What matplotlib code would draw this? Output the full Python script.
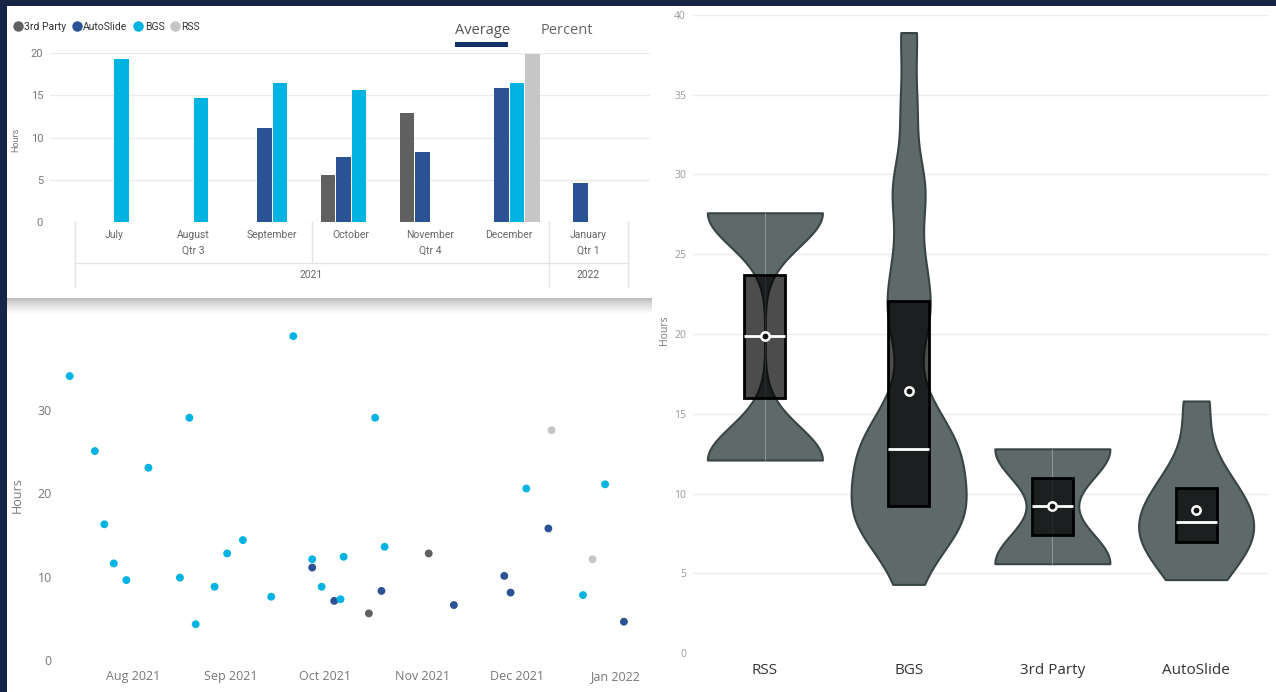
import numpy as np
import pandas as pd
import matplotlib
matplotlib.use("Agg")
import matplotlib.pyplot as plt
import matplotlib.dates as mdates
from matplotlib.patches import Rectangle
from matplotlib.lines import Line2D

plt.rcParams['font.family'] = ['Open Sans', 'DejaVu Sans']

# ---------------------------------------------------------
# Data
# ---------------------------------------------------------
series_names = ["3rd Party", "AutoSlide", "BGS", "RSS"]
series_colors = ["#606060", "#2a5295", "#01b3e3", "#c6c6c6"]

# monthly averages (hours), top-left chart
months = ["July", "August", "September", "October", "November", "December", "January"]
month_quarter = ["Qtr 3", "Qtr 3", "Qtr 3", "Qtr 4", "Qtr 4", "Qtr 4", "Qtr 1"]
month_year = ["2021", "2021", "2021", "2021", "2021", "2021", "2022"]
third_party_avg = [np.nan, np.nan, np.nan, 5.6, 12.9, np.nan, np.nan]
autoslide_avg = [np.nan, np.nan, 11.1, 7.7, 8.3, 15.8, 4.6]
bgs_avg = [19.3, 14.7, 16.4, 15.6, np.nan, 16.5, np.nan]
rss_avg = [np.nan, np.nan, np.nan, np.nan, np.nan, 19.9, np.nan]

# individual jobs (hours), scatter + violin
bgs_dates = ["2021-07-12", "2021-07-20", "2021-07-23", "2021-07-26", "2021-07-30",
             "2021-08-06", "2021-08-16", "2021-08-19", "2021-08-21", "2021-08-27",
             "2021-08-31", "2021-09-05", "2021-09-14", "2021-09-21", "2021-09-27",
             "2021-09-30", "2021-10-06", "2021-10-07", "2021-10-17", "2021-10-20",
             "2021-12-04", "2021-12-22", "2021-12-29"]
bgs_hours = [34.1, 25.1, 16.3, 11.6, 9.6, 23.1, 9.9, 29.1, 4.3, 8.8, 12.8, 14.4,
             7.6, 38.9, 12.1, 8.8, 7.3, 12.4, 29.1, 13.6, 20.6, 7.8, 21.1]
autoslide_dates = ["2021-09-27", "2021-10-04", "2021-10-19", "2021-11-11",
                   "2021-11-27", "2021-11-29", "2021-12-11", "2022-01-04"]
autoslide_hours = [11.1, 7.1, 8.3, 6.6, 10.1, 8.1, 15.8, 4.6]
third_party_dates = ["2021-10-15", "2021-11-03"]
third_party_hours = [5.6, 12.8]
rss_dates = ["2021-12-12", "2021-12-25"]
rss_hours = [27.6, 12.1]

violin_order = ["RSS", "BGS", "3rd Party", "AutoSlide"]

# ---------------------------------------------------------
# Figure / panels
# ---------------------------------------------------------
W, H = 1276, 692
fig = plt.figure(figsize=(W / 100, H / 100), dpi=100, facecolor="#172446")


def fx(px):
    return px / W


def fy(py):
    return (H - py) / H


# white canvas
fig.patches.append(Rectangle((fx(7), 0), 1 - fx(7), fy(6), transform=fig.transFigure,
                             facecolor="white", edgecolor="none", zorder=-5))

# shadow under top-left card
ax_sh = fig.add_axes([fx(7), fy(314), fx(652) - fx(7), fy(298) - fy(314)])
grad = np.linspace(0, 1, 40) ** 0.8
ax_sh.imshow((0.73 + 0.27 * grad)[:, None], cmap="gray", vmin=0, vmax=1,
             aspect="auto", interpolation="bilinear")
ax_sh.axis("off")

# ---------------------------------------------------------
# Top-left: average hours per month
# ---------------------------------------------------------
ax1 = fig.add_axes([fx(50), fy(222), fx(650) - fx(50), fy(53) - fy(222)])
ax1.patch.set_alpha(0)
bar_font = ['Roboto', 'DejaVu Sans']
x = np.arange(len(months))
slot = 0.196
for j, (vals, col) in enumerate(zip([third_party_avg, autoslide_avg, bgs_avg, rss_avg],
                                    series_colors)):
    ax1.bar(x + (j - 1.5) * slot, vals, width=slot * 0.94, color=col, zorder=3)

ax1.set_xlim(-0.81, 6.78)
ax1.set_ylim(0, 20)
ax1.set_yticks([0, 5, 10, 15, 20])
ax1.set_xticks([])
ax1.grid(axis="y", color="#ebebeb", lw=1)
ax1.set_axisbelow(True)
for s in ax1.spines.values():
    s.set_visible(False)
ax1.tick_params(axis="y", length=0, pad=5, labelsize=8, labelcolor="#777777")
for lab in ax1.get_yticklabels():
    lab.set_family(bar_font)

# hierarchical category axis
tr = ax1.get_xaxis_transform()
line_kw = dict(color="#e3e3e3", lw=1, transform=tr, clip_on=False)
y_m, y_q, y_qline, y_y, y_bot = -0.077, -0.172, -0.243, -0.314, -0.385
for i, m in enumerate(months):
    ax1.text(i, y_m, m, transform=tr, ha="center", va="center", fontsize=7.5,
             color="#666666", family=bar_font)
for q in dict.fromkeys(month_quarter):
    idx = [i for i, v in enumerate(month_quarter) if v == q]
    ax1.text(np.mean(idx), y_q, q, transform=tr, ha="center", va="center",
             fontsize=7.5, color="#666666", family=bar_font)
for yr in dict.fromkeys(month_year):
    idx = [i for i, v in enumerate(month_year) if v == yr]
    ax1.text(np.mean(idx), y_y, yr, transform=tr, ha="center", va="center",
             fontsize=7.5, color="#666666", family=bar_font)
ax1.plot([-0.5, len(months) - 0.5], [y_qline, y_qline], **line_kw)
for i in range(len(months) + 1):
    b = i - 0.5
    year_edge = i in (0, len(months)) or month_year[i] != month_year[i - 1]
    quarter_edge = i < len(months) and month_quarter[i] != month_quarter[i - 1]
    if year_edge:
        ax1.plot([b, b], [0, y_bot], **line_kw)
    elif quarter_edge:
        ax1.plot([b, b], [0, y_qline], **line_kw)

fig.text(fx(16), fy(140), "Hours", rotation=90, ha="center", va="center",
         fontsize=6.5, color="#777777", family=bar_font)

handles = [Line2D([], [], marker="o", ls="", color=c, markersize=6.5) for c in series_colors]
fig.legend(handles, series_names, loc="center left", bbox_to_anchor=(fx(13), fy(27)),
           ncol=4, frameon=False, handlelength=0.9, handletextpad=0.15,
           columnspacing=0.6, borderpad=0, borderaxespad=0,
           prop=dict(family=bar_font, size=7.5))
for t in fig.legends[0].get_texts():
    t.set_color("#333333")

fig.text(fx(455), fy(31), "Average", ha="left", va="center", fontsize=10.5, color="#555555")
fig.text(fx(541), fy(31), "Percent", ha="left", va="center", fontsize=10.5, color="#666666")
fig.patches.append(Rectangle((fx(455), fy(46.5)), fx(508) - fx(455), fy(42.5) - fy(46.5),
                             transform=fig.transFigure, facecolor="#13306b",
                             edgecolor="none"))

# ---------------------------------------------------------
# Bottom-left: hours per job over time
# ---------------------------------------------------------
ax2 = fig.add_axes([fx(60.25), fy(660), fx(646) - fx(60.25), fy(327) - fy(660)])
ax2.patch.set_alpha(0)
scatter_sets = [(third_party_dates, third_party_hours, series_colors[0]),
                (autoslide_dates, autoslide_hours, series_colors[1]),
                (bgs_dates, bgs_hours, series_colors[2]),
                (rss_dates, rss_hours, series_colors[3])]
for d, h, c in scatter_sets:
    ax2.scatter(pd.to_datetime(d), h, s=32, color=c, edgecolors="none", zorder=3)

ax2.set_xlim(pd.Timestamp("2021-07-09"), pd.Timestamp("2022-01-11"))
ax2.set_ylim(0, 40)
ax2.set_yticks([0, 10, 20, 30])
ax2.xaxis.set_major_locator(mdates.MonthLocator())
ax2.xaxis.set_major_formatter(mdates.DateFormatter("%b %Y"))
for s in ax2.spines.values():
    s.set_visible(False)
ax2.tick_params(length=0, labelsize=9, labelcolor="#777777")
ax2.tick_params(axis="x", pad=7)
ax2.tick_params(axis="y", pad=6)
fig.text(fx(17), fy(495), "Hours", rotation=90, ha="center", va="center",
         fontsize=9, color="#777777")

# ---------------------------------------------------------
# Right: distribution of hours per type
# ---------------------------------------------------------
ax3 = fig.add_axes([fx(693), fy(653), fx(1268) - fx(693), fy(15) - fy(653)])
ax3.patch.set_alpha(0)
hours_by_type = {"3rd Party": third_party_hours, "AutoSlide": autoslide_hours,
                 "BGS": bgs_hours, "RSS": rss_hours}
violin_data = [hours_by_type[n] for n in violin_order]
pos = np.arange(len(violin_order))

KDE_BW = 2.1  # smoothing bandwidth in hours
vp = ax3.violinplot(violin_data, positions=pos, widths=0.8, showextrema=False,
                    points=400, bw_method=lambda k: KDE_BW / np.std(k.dataset, ddof=1))
for body in vp["bodies"]:
    body.set_facecolor("#5e6969")
    body.set_edgecolor("#394444")
    body.set_linewidth(1.5)
    body.set_alpha(1)
    body.set_joinstyle("round")
    body.set_zorder(2)

# faint centre seam, only visible on some violins in the original
seam_visible = [True, False, True, False]
for p, d, vis in zip(pos, violin_data, seam_visible):
    if vis:
        ax3.vlines(p, min(d), max(d), color="#8e9898", lw=0.7, zorder=2.5)

ax3.boxplot(violin_data, positions=pos, widths=0.285, patch_artist=True,
            showfliers=False, showcaps=False, showmeans=True, zorder=3,
            boxprops=dict(facecolor=(0, 0, 0, 0.7), edgecolor="black", linewidth=2),
            whiskerprops=dict(linewidth=0),
            medianprops=dict(color="white", linewidth=2),
            meanprops=dict(marker="o", markerfacecolor="#151515",
                           markeredgecolor="white", markersize=6, markeredgewidth=1.8))

ax3.set_xlim(-0.5, 3.5)
ax3.set_ylim(0, 40)
ax3.set_yticks(np.arange(0, 41, 5))
ax3.set_xticks(pos)
ax3.set_xticklabels(violin_order)
ax3.grid(axis="y", color="#ececec", lw=1)
ax3.set_axisbelow(True)
for s in ax3.spines.values():
    s.set_visible(False)
ax3.tick_params(length=0)
ax3.tick_params(axis="y", labelsize=7.5, labelcolor="#999999", pad=5)
ax3.tick_params(axis="x", labelsize=11, labelcolor="#333333", pad=7)
fig.text(fx(664), fy(330), "Hours", rotation=90, ha="center", va="center",
         fontsize=7.5, color="#777777")

fig.savefig("out.png", dpi=100, facecolor=fig.get_facecolor())
